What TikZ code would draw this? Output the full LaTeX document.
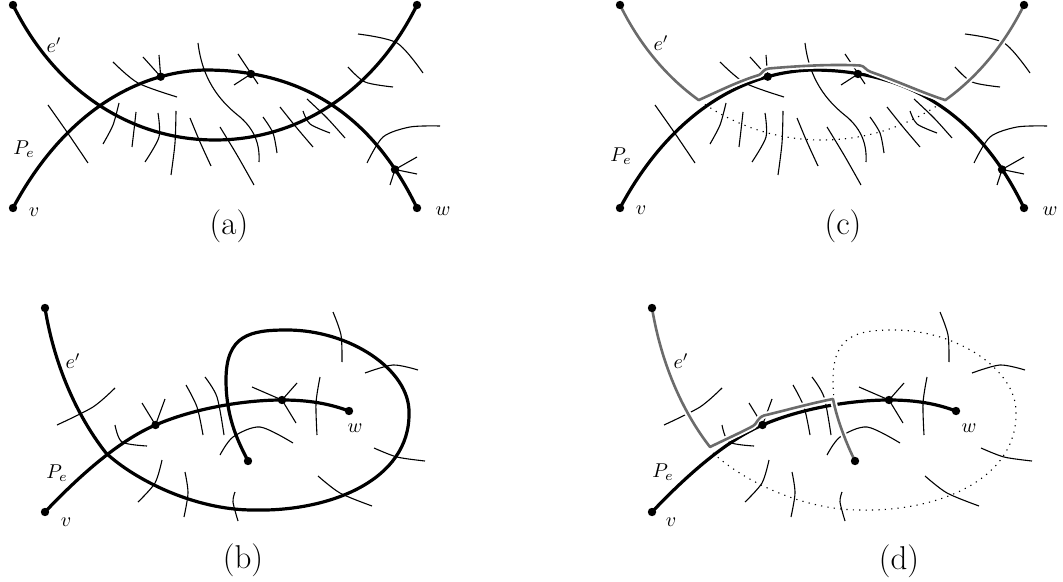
\documentclass[tikz,border=0pt]{standalone}

\definecolor{routegray}{gray}{0.42}

\tikzset{
  curve/.style={line width=1.6pt, line cap=round},
  thinarc/.style={line width=0.55pt},
  oldedge/.style={line width=0.55pt, dash pattern=on 0.6pt off 2.6pt},
  route/.style={draw=routegray, line width=1.3pt, line cap=round, line join=round,
    preaction={draw=white, line width=3.2pt}},
  lbl/.style={inner sep=0pt},
  caption/.style={inner sep=0pt, font=\fontsize{16.5}{20}\selectfont}
}

\newcommand{\vdot}[1]{\fill (#1) circle[radius=2.1pt];}

\begin{document}
\begin{tikzpicture}[x=0.5pt, y=-0.5pt]
    \useasboundingbox (0,0) rectangle (1063,582);

    % Top row: (a) and (c)
    \foreach \p/\dx in {a/0, c/607}{
      \begin{scope}[shift={(\dx,0)}]
        % Points
        \coordinate (\p-tl) at (13,5);
        \coordinate (\p-tr) at (417,5);
        \coordinate (\p-v) at (13,208);
        \coordinate (\p-w) at (417,208);
        \coordinate (\p-x) at (160.7,76.7);
        \coordinate (\p-y) at (251,74);
        \coordinate (\p-z) at (395,169.5);

        % Thin edges
        \draw[thinarc] plot[smooth] coordinates {(48,105) (67,132) (88,163)};
        \draw[thinarc] plot[smooth] coordinates {(113,62) (138,83) (177,97)};
        \draw[thinarc] (198,43) .. controls (203,85) and (225,105) .. (240,117)
                                .. controls (255,130) and (260,145) .. (259,162);
        \draw[thinarc] plot[smooth] coordinates {(119,103) (113,125) (103,144)};
        \draw[thinarc] plot[smooth] coordinates {(136,112) (134,130) (132,147)};
        \draw[thinarc] plot[smooth] coordinates {(158,113) (159,137) (145,162)};
        \draw[thinarc] plot[smooth] coordinates {(176,111) (175,143) (171,175)};
        \draw[thinarc] plot[smooth] coordinates {(190,118) (200,142) (211,166)};
        \draw[thinarc] plot[smooth] coordinates {(220,127) (237,155) (254,185)};
        \draw[thinarc] plot[smooth] coordinates {(263,117) (273,133) (277,153)};
        \draw[thinarc] plot[smooth] coordinates {(280,107) (296,127) (313,147)};
        \draw[thinarc] plot[smooth] coordinates {(303,111) (310,124) (330,133)};
        \draw[thinarc] plot[smooth] coordinates {(307,99) (327,118) (345,138)};
        \draw[thinarc] plot[smooth] coordinates {(358,34) (397,43) (423,73)};
        \draw[thinarc] plot[smooth] coordinates {(348,67) (365,82) (393,87)};
        \draw[thinarc] plot[smooth] coordinates {(367,163) (383,137) (410,127) (440,126)};
        \draw[thinarc] (143,57) -- (\p-x);
        \draw[thinarc] (159,55) -- (\p-x);
        \draw[thinarc] (238,54) -- (258,84);
        \draw[thinarc] (234,85) -- (\p-y);
        \draw[thinarc] (417,157) -- (\p-z);
        \draw[thinarc] (417,174) -- (\p-z);
        \draw[thinarc] (390,185) -- (\p-z);

        % Path P_e
        \draw[curve] (\p-v) .. controls (60,120) and (130,72) .. (205,70)
                            .. controls (285,70) and (365,100) .. (\p-w);
      \end{scope}
    }

    % Edge e' in (a)
    \draw[curve] (a-tl) .. controls (55,90) and (130,140) .. (215,140)
                        .. controls (300,140) and (375,90) .. (a-tr);

    % Rerouted e' in (c)
    \begin{scope}[shift={(607,0)}]
      \draw[oldedge] (97.9,104.4) .. controls (132.5,127.5) and (172.5,140) .. (215,140)
                                  .. controls (257.5,140) and (297.5,127.5) .. (332.1,104.4);
      \draw[route] (c-tl) .. controls (32.7,45) and (59.8,77.2) .. (91.7,100.1)
                          .. controls (112,91) and (132,81) .. (152,75)
                          .. controls (156,73) and (156,69) .. (162,68.5)
                          .. controls (190,66) and (225,64) .. (253,65.5)
                          .. controls (258,66) and (258,70) .. (264,72)
                          .. controls (290,81) and (316,93) .. (338.3,100.1)
                          .. controls (370.2,77.2) and (397.3,45) .. (c-tr);
    \end{scope}

    % Bottom row: (b) and (d)
    \foreach \p/\dx in {b/0, d/607}{
      \begin{scope}[shift={(\dx,0)}]
        % Points
        \coordinate (\p-et) at (45,308);
        \coordinate (\p-ee) at (248,461);
        \coordinate (\p-v) at (45,512);
        \coordinate (\p-w) at (349,411);
        \coordinate (\p-x) at (155.5,425);
        \coordinate (\p-y) at (282,400);

        % Thin edges
        \draw[thinarc] plot[smooth] coordinates {(115,388) (93,407) (57,425)};
        \draw[thinarc] plot[smooth] coordinates {(115,425) (122,442) (147,446)};
        \draw[thinarc] plot[smooth] coordinates {(186,385) (197,407) (203,435)};
        \draw[thinarc] plot[smooth] coordinates {(205,377) (217,397) (224,435)};
        \draw[thinarc] plot[smooth] coordinates {(220,455) (233,437) (260,427) (293,443)};
        \draw[thinarc] plot[smooth] coordinates {(320,377) (316,403) (317,435)};
        \draw[thinarc] plot[smooth] coordinates {(333,312) (341,335) (342,362)};
        \draw[thinarc] plot[smooth] coordinates {(365,373) (393,365) (418,370)};
        \draw[thinarc] plot[smooth] coordinates {(374,448) (397,457) (425,461)};
        \draw[thinarc] plot[smooth] coordinates {(318,476) (340,493) (372,506)};
        \draw[thinarc] plot[smooth] coordinates {(235,492) (233,502) (238,521)};
        \draw[thinarc] plot[smooth] coordinates {(185,472) (188,493) (184,517)};
        \draw[thinarc] plot[smooth] coordinates {(162,460) (155,483) (138,502)};
        \draw[thinarc] (142,403) -- (\p-x);
        \draw[thinarc] (165,399) -- (\p-x);
        \draw[thinarc] (252,387) -- (\p-y);
        \draw[thinarc] (297,383) -- (\p-y);
        \draw[thinarc] (296,423) -- (\p-y);

        % Path P_e
        \draw[curve] (\p-v) .. controls (80,475) and (120,440) .. (\p-x)
                            .. controls (195,408) and (245,400) .. (\p-y)
                            .. controls (310,400) and (330,404) .. (\p-w);
      \end{scope}
    }

    % Edge e' in (b)
    \draw[curve] (b-et) .. controls (55,370) and (80,420) .. (106,453)
                        .. controls (135,480) and (195,510) .. (253,510)
                        .. controls (330,512) and (410,480) .. (409,413)
                        .. controls (410,370) and (350,330) .. (287,330)
                        .. controls (250,330) and (226,335) .. (226,380)
                        .. controls (226,420) and (240,445) .. (b-ee);

    % Rerouted e' in (d)
    \begin{scope}[shift={(607,0)}]
      \draw[oldedge] (106,453) .. controls (135,480) and (195,510) .. (253,510)
                               .. controls (330,512) and (410,480) .. (409,413)
                               .. controls (410,370) and (350,330) .. (287,330)
                               .. controls (250,330) and (226,335) .. (226,380)
                               .. controls (226,392) and (227,397) .. (227,401);
      \draw[route] (d-et) .. controls (55,368) and (78,415) .. (103,447)
                          .. controls (115,441) and (135,432) .. (146,426)
                          .. controls (150,424) and (150,418) .. (157,415.5)
                          .. controls (180,410) and (205,403) .. (226,399)
                          .. controls (230,420) and (240,445) .. (d-ee);
    \end{scope}

    % Vertices
    \foreach \p in {a,c}{
      \foreach \q in {tl,tr,v,w,x,y,z} {\vdot{\p-\q}}
    }
    \foreach \p in {b,d}{
      \foreach \q in {et,ee,v,w,x,y} {\vdot{\p-\q}}
    }

    % Labels
    \node[lbl] (ea) at (54,45) {$e'$};
    \node[lbl] (pa) at (24,149) {$P_e$};
    \node[lbl] (va) at (34,212) {$v$};
    \node[lbl] (wa) at (443,211) {$w$};
    \node[lbl] (ec) at (661,43) {$e'$};
    \node[lbl] (pc) at (621,156) {$P_e$};
    \node[lbl] (vc) at (641,210) {$v$};
    \node[lbl] (wc) at (1050,211) {$w$};
    \node[lbl] (eb) at (73,361) {$e'$};
    \node[lbl] (pb) at (57,473) {$P_e$};
    \node[lbl] (vb) at (66,522) {$v$};
    \node[lbl] (wb) at (355,428) {$w$};
    \node[lbl] (ed) at (681,361) {$e'$};
    \node[lbl] (pd) at (663,472) {$P_e$};
    \node[lbl] (vd) at (671,522) {$v$};
    \node[lbl] (wd) at (969,428) {$w$};

    \node[caption] (capa) at (229,226) {(a)};
    \node[caption] (capb) at (243,560) {(b)};
    \node[caption] (capc) at (843,226) {(c)};
    \node[caption] (capd) at (899,561) {(d)};
\end{tikzpicture}
\end{document}
